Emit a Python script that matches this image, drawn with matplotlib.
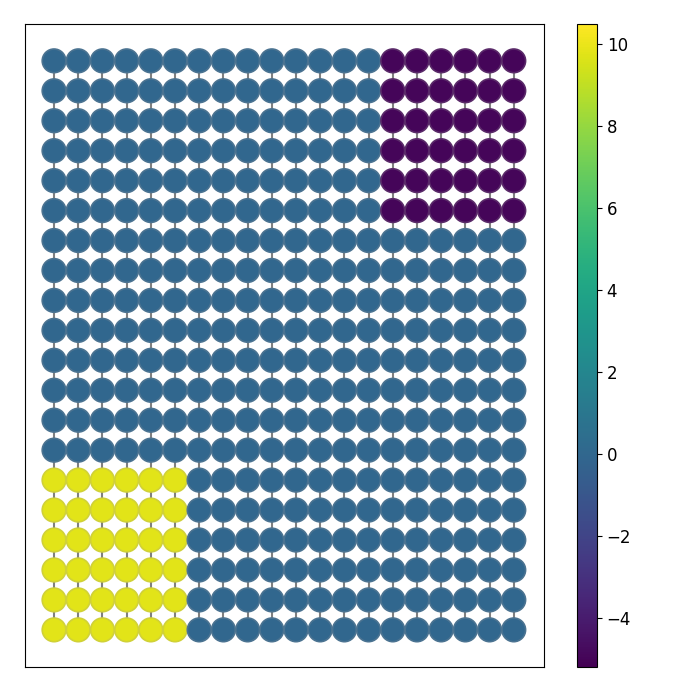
import numpy as np
import matplotlib
matplotlib.use("Agg")
import matplotlib.pyplot as plt
from matplotlib.colors import Normalize

# Grid of 20 x 20 points
n_cols = 20
n_rows = 20
x_vals = list(range(n_cols))
y_vals = list(range(n_rows))

# Values per cell: background ~0, a low block (top-right) and a high block (bottom-left)
background = 0.0
low_value = -5.0
high_value = 9.8
low_block_cols = list(range(14, 20))
low_block_rows = list(range(14, 20))
high_block_cols = list(range(0, 6))
high_block_rows = list(range(0, 6))
color_min = -5.2
color_max = 10.5

Z = np.full((n_rows, n_cols), background)
for r in low_block_rows:
    for c in low_block_cols:
        Z[r, c] = low_value
for r in high_block_rows:
    for c in high_block_cols:
        Z[r, c] = high_value

X, Y = np.meshgrid(x_vals, y_vals)

fig = plt.figure(figsize=(6.76, 6.93), dpi=100)
ax = fig.add_axes([25/676, 1 - 667/693, 519/676, 643/693])
cax = fig.add_axes([577/676, 1 - 667/693, 20/676, 643/693])

# connecting grid lines
for c in range(n_cols):
    ax.plot(X[:, c], Y[:, c], color='#808080', lw=1.5, zorder=1)
for r in range(n_rows):
    ax.plot(X[r, :], Y[r, :], color='#808080', lw=1.5, zorder=1)

cmap = plt.get_cmap('viridis')
norm = Normalize(vmin=color_min, vmax=color_max)
edge = cmap(norm(Z.ravel()))
edge[:, :3] = edge[:, :3] * 0.75 + 0.25 * 0.6

sc = ax.scatter(X.ravel(), Y.ravel(), c=Z.ravel(), cmap=cmap, norm=norm,
                s=290, edgecolors=edge, linewidths=1.2, zorder=2)

ax.set_xlim(-1.2, 20.25)
ax.set_ylim(-1.24, 20.23)
ax.set_xticks([])
ax.set_yticks([])

cb = fig.colorbar(sc, cax=cax)
cb.set_ticks([-4, -2, 0, 2, 4, 6, 8, 10])
cax.tick_params(labelsize=12)

fig.savefig("out.png", dpi=100)
